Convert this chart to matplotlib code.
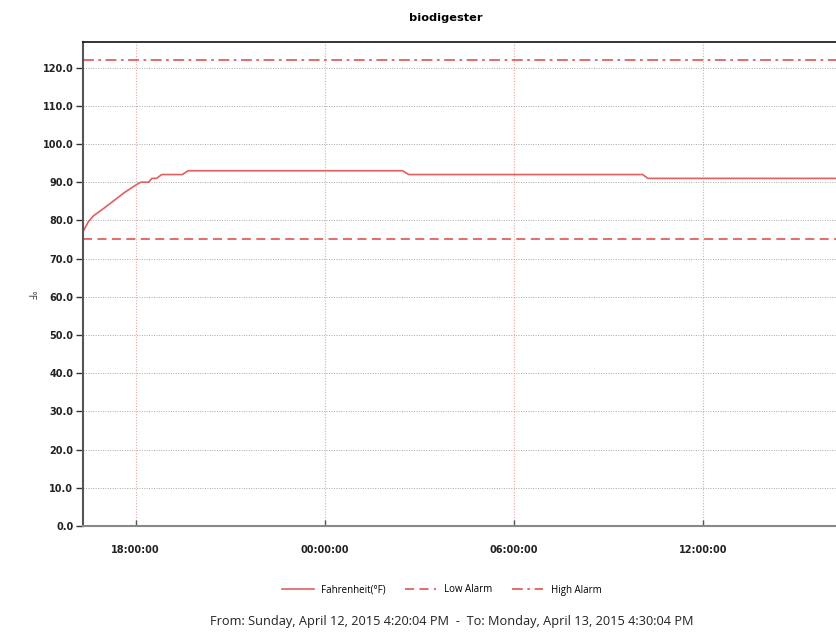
import numpy as np
import pandas as pd
import matplotlib
matplotlib.use("Agg")
import matplotlib.pyplot as plt
import matplotlib.dates as mdates

# readings (time, degrees F)
times = ["2015-04-12 16:20", "2015-04-12 16:30", "2015-04-12 16:40", "2015-04-12 17:00",
         "2015-04-12 17:20", "2015-04-12 17:40", "2015-04-12 18:00", "2015-04-12 18:10",
         "2015-04-12 18:25", "2015-04-12 18:31", "2015-04-12 18:40", "2015-04-12 18:50",
         "2015-04-12 19:29", "2015-04-12 19:40", "2015-04-13 02:28", "2015-04-13 02:40",
         "2015-04-13 10:05", "2015-04-13 10:15", "2015-04-13 16:30"]
fahrenheit = [77.0, 79.6, 81.2, 83.2, 85.3, 87.4, 89.2, 90.0,
              90.0, 91.0, 91.0, 92.0, 92.0, 93.0, 93.0, 92.0,
              92.0, 91.0, 91.0]
low_alarm = 75.0
high_alarm = 122.0
start = "2015-04-12 16:20:04"
end = "2015-04-13 16:30:04"
xticks = ["2015-04-12 18:00", "2015-04-13 00:00", "2015-04-13 06:00", "2015-04-13 12:00"]
yticks = np.arange(0, 121, 10)

t = pd.to_datetime(times)
t0 = pd.Timestamp(start)
t1 = pd.Timestamp(end)

red = "#e06060"

fig = plt.figure(figsize=(8.36, 6.35), dpi=100)
ax = fig.add_axes([83/836, 109/635, 762/836, 484/635])

ax.plot(t, fahrenheit, color=red, lw=1.2, label="Fahrenheit(°F)")
ax.plot([t0, t1], [low_alarm, low_alarm], color=red, lw=1.3, ls=(0, (5, 3)), label="Low Alarm")
ax.plot([t0, t1], [high_alarm, high_alarm], color=red, lw=1.3, ls=(0, (6, 2.5, 1.5, 2.5)), label="High Alarm")

ax.set_xlim(t0, t1)
ax.set_ylim(0, 126.7)
ax.set_yticks(yticks)
ax.set_yticklabels([f"{v:.1f}" for v in yticks])
ax.set_xticks(pd.to_datetime(xticks))
ax.xaxis.set_major_formatter(mdates.DateFormatter("%H:%M:%S"))

ax.grid(axis="y", color="#a8a8a8", ls=(0, (1, 1.5)), lw=0.7)
ax.grid(axis="x", color="#eba3a3", ls=(0, (1, 1.5)), lw=0.8)

for lab in ax.get_xticklabels() + ax.get_yticklabels():
    lab.set_fontweight("bold")
    lab.set_fontsize(7)
    lab.set_color("#222222")
ax.tick_params(axis="y", direction="out", length=5, width=1, color="#333333", pad=2)
ax.tick_params(axis="x", direction="in", length=4, width=1, color="#555555", pad=14)

ax.spines["right"].set_visible(False)
ax.spines["top"].set_color("#111111")
ax.spines["top"].set_linewidth(1.2)
ax.spines["left"].set_color("#555555")
ax.spines["left"].set_linewidth(1.5)
ax.spines["bottom"].set_color("#888888")
ax.spines["bottom"].set_linewidth(1.5)

fig.text(446/836, 1 - 18/635, "biodigester", ha="center", va="center", fontsize=8.2, fontweight="bold")
fig.text(30/836, 1 - 295/635, "°F", ha="center", va="center", rotation=270, fontsize=7, color="#444444")

fig.legend(loc="center", bbox_to_anchor=(442/836, 1 - 590/635), ncol=3, frameon=False,
           handlelength=3.2, columnspacing=2.0, prop={"family": "Open Sans", "size": 7})
fig.text(452/836, 1 - 622/635,
         "From: Sunday, April 12, 2015 4:20:04 PM  -  To: Monday, April 13, 2015 4:30:04 PM",
         ha="center", va="center", fontsize=9.2, family="Open Sans", color="#222222")

fig.savefig("out.png", dpi=100)
